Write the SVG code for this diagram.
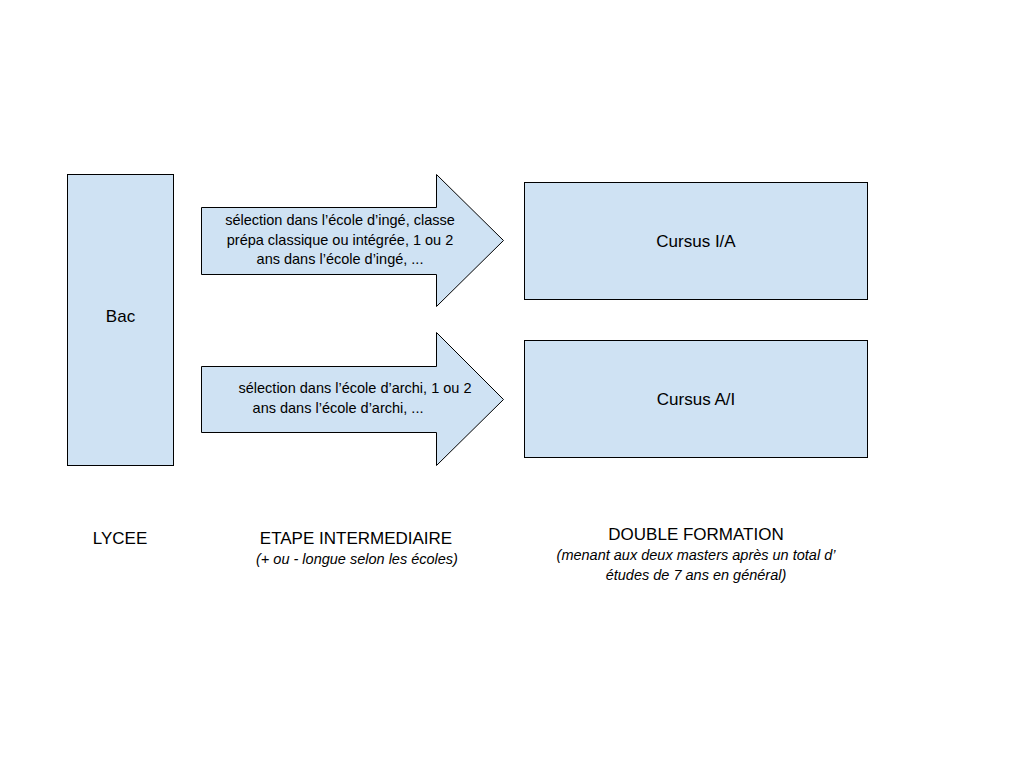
<svg xmlns="http://www.w3.org/2000/svg" width="1024" height="768" viewBox="0 0 1024 768">
<style>
.s{fill:#cfe2f3;stroke:#000;stroke-width:1}
text{font-family:"Liberation Sans",Arial,sans-serif;fill:#000;text-anchor:middle}
.n{font-size:17px}.a{font-size:14.5px}.l{font-size:17px}.i{font-size:14.5px;font-style:italic}
</style>
<rect width="1024" height="768" fill="#fff"/>
<g id="bac"><rect class="s" x="67.5" y="174.5" width="106" height="291"/><text class="n" x="120.5" y="322">Bac</text></g>
<g id="connectors">
<g id="arrow1"><path class="s" d="M201.5 207.5H436.5V174.5L503.5 240.5L436.5 306.5V274.5H201.5Z"/>
<text class="a" x="340" y="225">sélection dans l’école d’ingé, classe</text>
<text class="a" x="340" y="245">prépa classique ou intégrée, 1 ou 2</text>
<text class="a" x="340" y="264">ans dans l’école d’ingé, ...</text></g>
<g id="arrow2"><path class="s" d="M201.5 366.5H436.5V332.5L503.5 399.5L436.5 465.5V432.5H201.5Z"/>
<text class="a" x="355" y="393">sélection dans l’école d’archi, 1 ou 2</text>
<text class="a" x="338" y="413">ans dans l’école d’archi, ...</text></g>
</g>
<g id="ia"><rect class="s" x="524.5" y="182.5" width="343" height="117"/><text class="n" x="696" y="247">Cursus I/A</text></g>
<g id="ai"><rect class="s" x="524.5" y="340.5" width="343" height="117"/><text class="n" x="696" y="405">Cursus A/I</text></g>
<text class="l" x="120" y="544">LYCEE</text>
<text class="l" x="356" y="544">ETAPE INTERMEDIAIRE</text>
<text class="i" x="357" y="564">(+ ou - longue selon les écoles)</text>
<text class="l" x="696" y="540">DOUBLE FORMATION</text>
<text class="i" x="696" y="560">(menant aux deux masters après un total d’</text>
<text class="i" x="696" y="580">études de 7 ans en  général)</text>
</svg>
